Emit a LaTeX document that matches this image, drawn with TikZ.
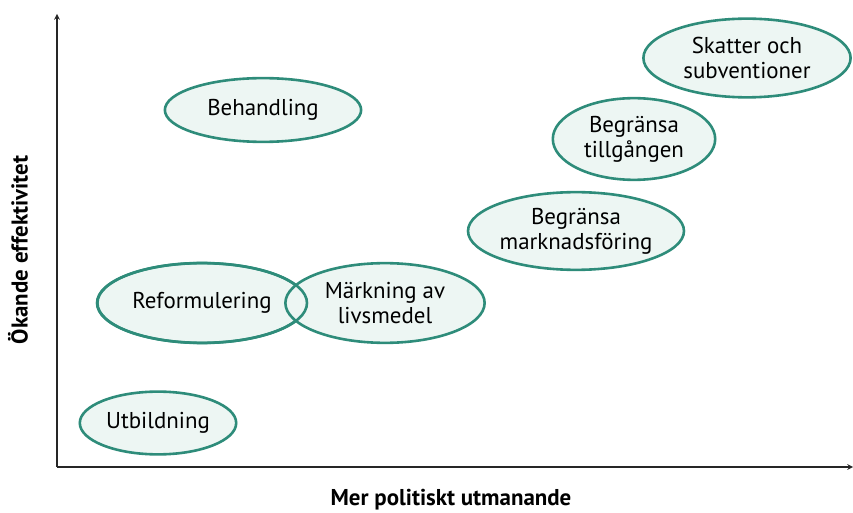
\documentclass[tikz,border=0pt]{standalone}
\usepackage{fontspec}
\setmainfont{PT Sans}
\usetikzlibrary{
  shapes.geometric,
  arrows
}
\definecolor{teal}{HTML}{2E8C7A}
\definecolor{mint}{HTML}{EDF6F3}
\tikzset{
  x=1bp, y=-1bp,
  measure/.style={ellipse, draw=teal, fill=mint, line width=2.6bp,
    inner sep=0pt, align=center, font=\fontsize{23}{25}\selectfont},
  axis/.style={->, >=stealth, line width=1.5bp, black!85},
  axis label/.style={font=\bfseries\fontsize{23}{26}\selectfont}
}

\begin{document}
\begin{tikzpicture}
    \useasboundingbox (0,0) rectangle (853,513);
    % axes
    \coordinate (o) at (57,467);
    \coordinate (ytop) at (57,14);
    \coordinate (xend) at (853,467);
    \draw[axis] (o) -- (ytop);
    \draw[axis] (o) -- (xend);
    \node[axis label, rotate=90] (ylab) at (18,250) {Ökande effektivitet};
    \node[axis label] (xlab) at (451,500) {Mer politiskt utmanande};
    % measures
    \node[measure, minimum width=197, minimum height=64] (beh) at (263,110) {Behandling};
    \node[measure, minimum width=157, minimum height=63] (utb) at (158,423) {Utbildning};
    \node[measure, minimum width=210, minimum height=80] (ref) at (202,303) {Reformulering};
    \node[measure, minimum width=200, minimum height=80] (mar) at (385,303) {Märkning av\\livsmedel};
    % the two overlapping ones show both outlines
    \draw[teal, line width=2.6bp] (ref.center) ellipse [x radius=105, y radius=40];
    \node[measure, minimum width=212, minimum height=78] (mkf) at (576,231) {Begränsa\\marknadsföring};
    \node[measure, minimum width=163, minimum height=82] (til) at (634,139) {Begränsa\\tillgången};
    \node[measure, minimum width=208, minimum height=79] (ska) at (747,58) {Skatter och\\subventioner};
  \end{tikzpicture}
\end{document}
